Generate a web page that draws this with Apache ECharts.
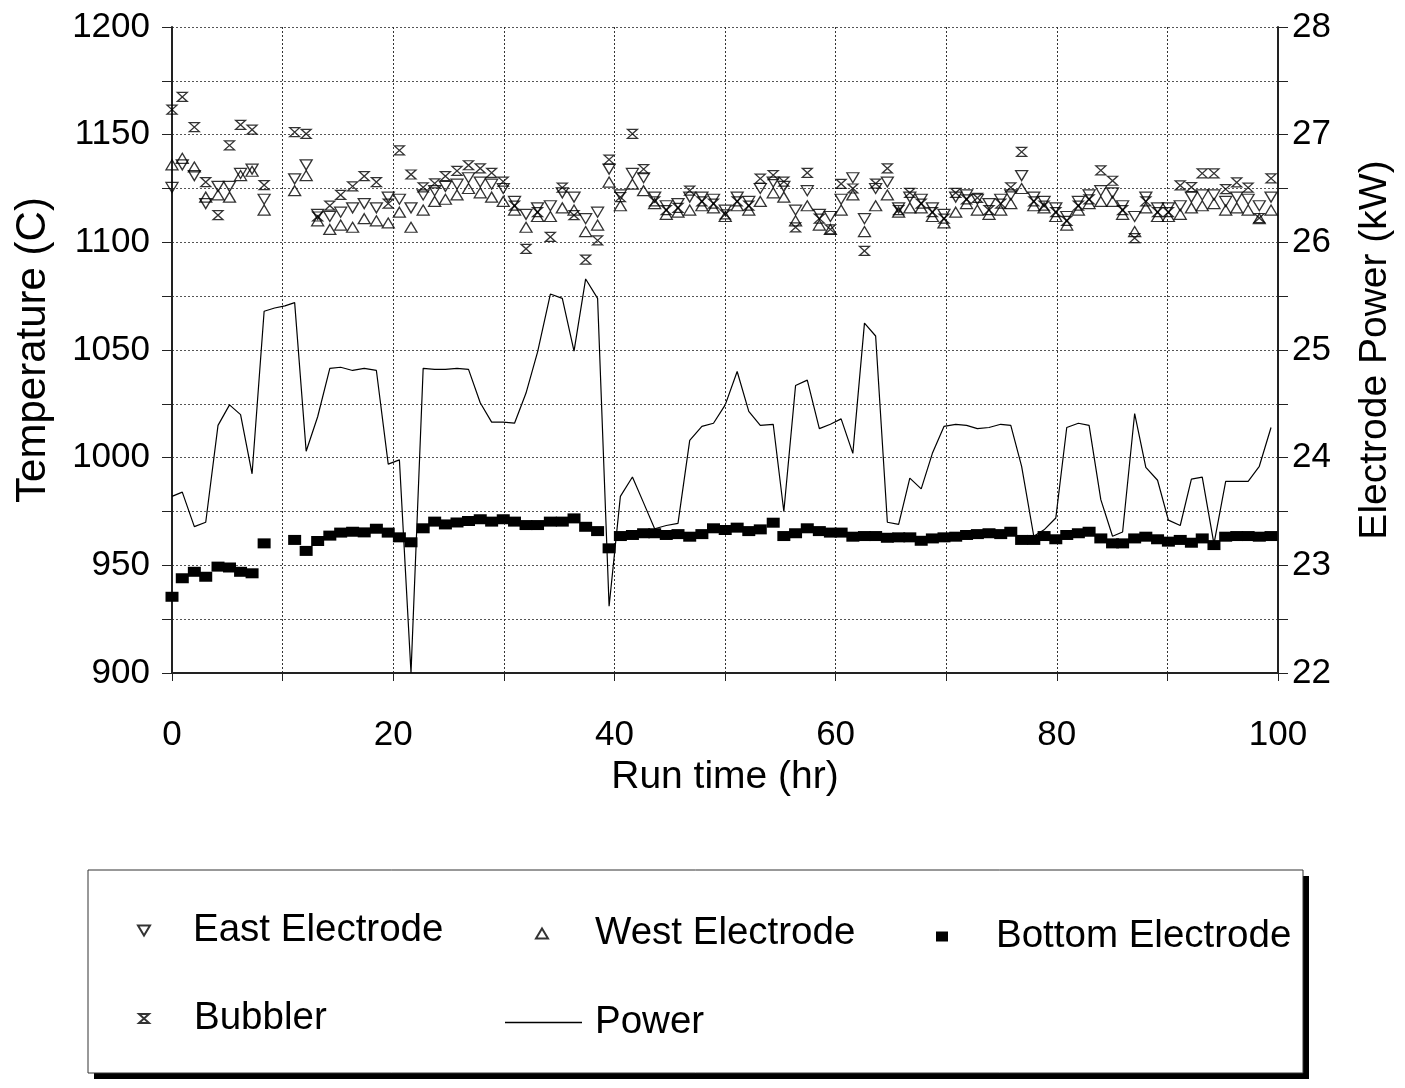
<!DOCTYPE html>
<html>
<head>
<meta charset="utf-8">
<script src="https://cdn.jsdelivr.net/npm/echarts@6/dist/echarts.min.js"></script>
<style>
html,body{margin:0;padding:0;background:#fff;}
#chart{width:1405px;height:1088px;}
</style>
</head>
<body>
<div id="chart"></div>
<script>
// Run time of each sample (hr)
const hours = [0.00,0.93,2.02,3.05,4.16,5.20,6.20,7.24,8.33,9.28,10.21,11.09,12.13,13.17,14.27,15.25,16.33,17.38,18.48,19.55,
  20.56,21.61,22.71,23.75,24.72,25.77,26.81,27.87,28.90,29.95,30.97,32.01,33.05,34.21,35.29,36.35,37.40,38.48,39.52,40.54,
  41.63,42.64,43.64,44.69,45.75,46.81,47.91,48.96,50.02,51.10,52.15,53.19,54.36,55.32,56.38,57.44,58.53,59.53,60.50,61.56,
  62.61,63.62,64.68,65.70,66.71,67.74,68.75,69.80,70.86,71.84,72.82,73.87,74.93,75.84,76.82,77.92,78.85,79.91,80.90,81.95,
  82.92,83.98,85.04,85.95,87.04,88.05,89.11,90.09,91.16,92.17,93.15,94.21,95.27,96.27,97.30,98.31,99.37];

// Electrode power (kW)
const powerKW = [23.64,23.68,23.36,23.40,24.30,24.49,24.40,23.85,25.36,25.39,25.41,25.44,24.06,24.38,24.83,24.84,24.81,24.83,24.81,23.94,
  23.98,22.00,24.83,24.82,24.82,24.83,24.82,24.51,24.33,24.33,24.32,24.60,24.98,25.52,25.48,24.99,25.66,25.48,22.62,23.64,
  23.82,23.58,23.34,23.37,23.39,24.16,24.29,24.32,24.49,24.80,24.43,24.30,24.31,23.50,24.67,24.72,24.27,24.31,24.36,24.04,
  25.25,25.13,23.40,23.38,23.81,23.71,24.04,24.29,24.31,24.30,24.27,24.28,24.31,24.30,23.92,23.27,23.33,23.44,24.28,24.32,
  24.30,23.61,23.27,23.31,24.41,23.91,23.79,23.42,23.37,23.80,23.82,23.20,23.78,23.78,23.78,23.92,24.28];

// Bottom electrode temperature (C)
const bottomC = [935.4,944,947,944.7,949.4,949,947,946.3,960.2,null,null,961.8,956.7,961.3,963.8,965.2,965.6,965.3,967,965.2,
  963,960.7,967.2,970.3,969,969.9,970.6,971.4,970.3,971.4,970.3,968.7,968.7,970.3,970.3,971.8,967.9,965.9,957.9,963.6,
  964.1,964.9,964.9,964.1,964.5,963.3,964.5,967.2,966.4,967.5,965.9,966.7,969.8,963.6,964.9,967.2,965.9,965.2,965.2,963.3,
  963.6,963.6,962.8,963,963,961.4,962.5,963,963.3,964.1,964.5,964.9,964.5,965.6,961.8,961.8,963.6,962.1,964.1,964.9,
  965.6,962.5,960.2,960.2,962.5,963.3,962.1,961,961.8,960.5,962.5,959.4,963.3,963.6,963.6,963.3,963.6];

// East electrode temperature (C)
const eastC = [1125.5,1136,1131,1118,1126,1126,1132,1134,1120,null,null,1129.5,1136,1113,1112,1114,1116,1118,1116,1121,
  1120,1116,1122,1124,1126,1127,1130,1128,1127,1125,1119,1113,1116,1117,1123,1121,1111,1114,1134,1122,
  1132,1130,1121,1117,1118,1121,1121,1120,1115,1121,1119,1125,1128,1126,1115,1124,1113,1112,1120,1130,
  1111,1125,1128,1116,1121,1120,1116,1113,1121,1122,1120,1118,1120,1122,1131,1121,1119,1116,1112,1119,
  1122,1124,1123,1117,1112,1121,1116,1116,1117,1121,1122,1122,1119,1121,1120,1117,1121];

// West electrode temperature (C)
const westC = [1136,1139,1135,1121,1122,1121,1131,1133,1115,null,null,1124,1131,1110,1106,1108,1107,1111,1110,1109,
  1114,1107,1115,1119,1120,1122,1125,1123,1121,1119,1115,1107,1112,1112,1116,1115,1105,1108,1128,1117,
  1127,1124,1118,1113,1114,1115,1117,1116,1112,1117,1115,1119,1123,1121,1110,1117,1108,1106,1115,1122,
  1105,1117,1122,1114,1116,1116,1112,1109,1114,1118,1115,1113,1115,1118,1125,1117,1116,1112,1108,1115,
  1118,1119,1119,1113,1105,1116,1112,1112,1113,1116,1117,1118,1115,1116,1115,1111,1115];

// Bubbler temperature (C)
const bubblerC = [1161.6,1167.5,1153.5,1128,1112.6,1145,1154.6,1152.3,1126.6,null,null,1151.2,1150.4,1112,1117,1122,1126,1130.7,1128,1118,
  1142.7,1131.5,1125.5,1127.4,1130.7,1133.2,1135.8,1134.3,1132.3,1128.2,1117,1097,1114,1102.5,1125.4,1112.6,1092,1100.9,1138.4,1121,
  1150.4,1134,1119,1115,1116,1124,1119,1118,1113,1119,1117,1129.6,1131.2,1128.2,1107,1132.3,1111,1106,1127.2,1125,
  1096,1127.3,1134.3,1115,1123,1118,1114,1111,1123,1120,1120.7,1115,1118,1125.5,1142,1119,1117,1114,1110,1117,
  1120,1133.4,1128.6,1115,1102,1119,1114,1114,1126.4,1125.6,1132,1132,1124.7,1127.8,1125.4,1111.3,1129.7];

const xTicks = [0,20,40,60,80,100];
const tempTicks = [900,950,1000,1050,1100,1150,1200];
const powerTicks = [22,23,24,25,26,27,28];

const pair = arr => hours.map((h,i)=>[h, arr[i]]).filter(p=>p[1]!==null);

const FONT = 'Liberation Sans, Arial, sans-serif';
const DOWN = 'path://M0,0L12,0L6,10Z';
const UP = 'path://M6,0L12,10L0,10Z';
const HOURGLASS = 'path://M0,0L10,0L0,9L10,9Z';

const hollow = {color:'rgba(0,0,0,0)', borderColor:'#000', borderWidth:1.3};

const chart = echarts.init(document.getElementById('chart'), null, {renderer:'canvas'});
const legendText = {fontFamily:FONT, fontSize:38.5, color:'#000'};
chart.setOption({
  animation:false,
  backgroundColor:'#fff',
  grid:{left:172, right:127, top:27, bottom:415, containLabel:false, outerBoundsMode:'none'},
  xAxis:{
    type:'value', min:0, max:100, interval:20,
    name:'Run time (hr)', nameLocation:'middle', nameGap:84,
    nameTextStyle:{fontFamily:FONT, fontSize:39, color:'#000'},
    axisLine:{show:true, lineStyle:{color:'#222', width:2}},
    axisTick:{show:true, inside:false, length:8, lineStyle:{color:'#222'}},
    minorTick:{show:true, splitNumber:2, length:8, lineStyle:{color:'#222'}},
    axisLabel:{fontFamily:FONT, fontSize:35, color:'#000', margin:45,
      formatter:v=> xTicks.includes(v) ? String(v) : ''},
    splitLine:{show:true, lineStyle:{color:'#333', type:[2,2], width:1}},
    minorSplitLine:{show:true, lineStyle:{color:'#333', type:[2,2], width:1}}
  },
  yAxis:[{
    type:'value', min:900, max:1200, interval:50,
    name:'Temperature (C)', nameLocation:'middle', nameGap:118, nameRotate:90,
    nameTextStyle:{fontFamily:FONT, fontSize:42, color:'#000'},
    axisLine:{show:true, lineStyle:{color:'#222', width:2}},
    axisTick:{show:true, length:10, lineStyle:{color:'#222'}},
    minorTick:{show:true, splitNumber:2, length:10, lineStyle:{color:'#222'}},
    axisLabel:{fontFamily:FONT, fontSize:35, color:'#000', margin:22,
      formatter:v=> tempTicks.includes(v) ? String(v) : ''},
    splitLine:{show:true, lineStyle:{color:'#555', type:[2,2], width:1}},
    minorSplitLine:{show:true, lineStyle:{color:'#555', type:[2,2], width:1}}
  },{
    type:'value', min:22, max:28, interval:1, position:'right',
    name:'Electrode Power (kW)', nameLocation:'middle', nameGap:78, nameRotate:90,
    nameTextStyle:{fontFamily:FONT, fontSize:39, color:'#000'},
    axisLine:{show:true, lineStyle:{color:'#222', width:2}},
    axisTick:{show:true, length:10, lineStyle:{color:'#222'}},
    minorTick:{show:true, splitNumber:2, length:10, lineStyle:{color:'#222'}},
    axisLabel:{fontFamily:FONT, fontSize:35, color:'#000', margin:14,
      formatter:v=> powerTicks.includes(v) ? String(v) : ''},
    splitLine:{show:false}
  }],
  legend:[
    {left:137, top:911, itemWidth:12, itemHeight:10, padding:0, selectedMode:false,
      textStyle:Object.assign({padding:[0,0,0,38]}, legendText), data:[{name:'East Electrode', icon:DOWN}]},
    {left:535, top:914, itemWidth:12, itemHeight:10, padding:0, selectedMode:false,
      textStyle:Object.assign({padding:[0,0,0,42]}, legendText), data:[{name:'West Electrode', icon:UP}]},
    {left:936, top:917, itemWidth:12, itemHeight:10, padding:0, selectedMode:false,
      textStyle:Object.assign({padding:[0,0,0,43]}, legendText), data:[{name:'Bottom Electrode', icon:'rect'}]},
    {left:138, top:999, itemWidth:10, itemHeight:9, padding:0, selectedMode:false,
      textStyle:Object.assign({padding:[0,0,0,40]}, legendText), data:[{name:'Bubbler', icon:HOURGLASS}]},
    {left:505, top:1003, itemWidth:77, itemHeight:1.5, padding:0, selectedMode:false,
      itemStyle:{color:'#000', borderWidth:0},
      textStyle:Object.assign({padding:[0,0,0,8]}, legendText), data:[{name:'Power', icon:'rect'}]}
  ],
  graphic:[
    {type:'rect', shape:{x:94, y:876, width:1215, height:203}, style:{fill:'#000'}, z:-10},
    {type:'rect', shape:{x:88, y:870, width:1215, height:203}, style:{fill:'#fff', stroke:'#333', lineWidth:1}, z:-9}
  ],
  series:[
    {name:'Bottom Electrode', type:'scatter', data:pair(bottomC), symbol:'rect', symbolSize:[13,10],
      itemStyle:{color:'#000', opacity:1}},
    {name:'East Electrode', type:'scatter', data:pair(eastC), symbol:DOWN, symbolSize:[12,10],
      itemStyle:hollow},
    {name:'West Electrode', type:'scatter', data:pair(westC), symbol:UP, symbolSize:[12,10],
      itemStyle:hollow},
    {name:'Bubbler', type:'scatter', data:pair(bubblerC), symbol:HOURGLASS, symbolSize:[10,9],
      itemStyle:hollow},
    {name:'Power', type:'line', yAxisIndex:1, data:hours.map((h,i)=>[h, powerKW[i]]),
      showSymbol:false, symbol:'none', lineStyle:{color:'#000', width:1.2}, itemStyle:{color:'#000'}}
  ]
});
</script>
</body>
</html>
